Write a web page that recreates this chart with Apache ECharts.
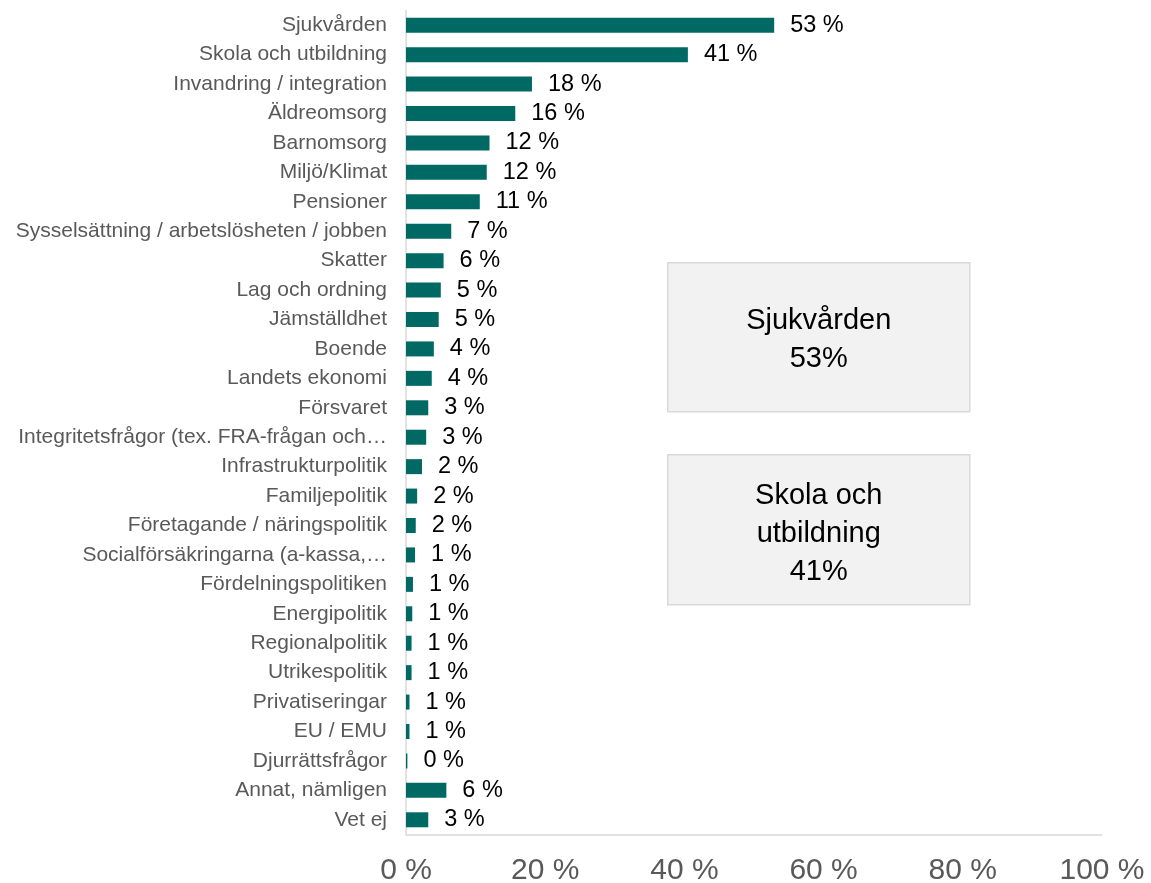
<!DOCTYPE html>
<html>
<head>
<meta charset="utf-8">
<script src="https://cdn.jsdelivr.net/npm/echarts@6/dist/echarts.min.js"></script>
<style>
  html, body { margin: 0; padding: 0; background: #fff; }
  #main { width: 1151px; height: 883px; }
</style>
</head>
<body>
<div id="main"></div>
<script>
var categories = [
    'Sjukvården', 'Skola och utbildning', 'Invandring / integration', 'Äldreomsorg',
    'Barnomsorg', 'Miljö/Klimat', 'Pensioner', 'Sysselsättning / arbetslösheten / jobben',
    'Skatter', 'Lag och ordning', 'Jämställdhet', 'Boende', 'Landets ekonomi', 'Försvaret',
    'Integritetsfrågor (tex. FRA-frågan och…', 'Infrastrukturpolitik', 'Familjepolitik',
    'Företagande / näringspolitik', 'Socialförsäkringarna (a-kassa,…', 'Fördelningspolitiken',
    'Energipolitik', 'Regionalpolitik', 'Utrikespolitik', 'Privatiseringar', 'EU / EMU',
    'Djurrättsfrågor', 'Annat, nämligen', 'Vet ej'
];
// bar lengths (percent)
var values = [
    52.9, 40.5, 18.1, 15.7, 12.0, 11.6, 10.6, 6.5, 5.4, 5.0, 4.7, 4.0, 3.7, 3.2,
    2.9, 2.3, 1.6, 1.4, 1.3, 1.0, 0.9, 0.8, 0.8, 0.5, 0.5, 0.2, 5.8, 3.2
];
// printed labels
var valueLabels = [
    '53 %', '41 %', '18 %', '16 %', '12 %', '12 %', '11 %', '7 %', '6 %', '5 %', '5 %',
    '4 %', '4 %', '3 %', '3 %', '2 %', '2 %', '2 %', '1 %', '1 %', '1 %', '1 %', '1 %',
    '1 %', '1 %', '0 %', '6 %', '3 %'
];
var xTicks = [0, 20, 40, 60, 80, 100];

var myChart = echarts.init(document.getElementById('main'));
var option = {
    animation: false,
    textStyle: { fontFamily: 'Liberation Sans, Arial, sans-serif' },
    grid: { left: 406, right: 49, top: 10.5, bottom: 48.5, outerBoundsMode: 'none' },
    xAxis: {
        type: 'value',
        min: xTicks[0],
        max: xTicks[xTicks.length - 1],
        interval: 20,
        axisLine: { show: true, lineStyle: { color: '#d9d9d9', width: 1.5 } },
        axisTick: { show: false },
        splitLine: { show: false },
        axisLabel: {
            margin: 21,
            color: '#595959',
            fontSize: 30,
            formatter: function (v) { return v + ' %'; }
        }
    },
    yAxis: {
        type: 'category',
        inverse: true,
        data: categories,
        axisLine: { show: true, lineStyle: { color: '#d9d9d9', width: 1.5 } },
        axisTick: { show: false },
        axisLabel: { color: '#595959', fontSize: 21, margin: 19 }
    },
    series: [
        {
            type: 'bar',
            data: values,
            barWidth: 15,
            itemStyle: { color: '#006963' },
            label: {
                show: true,
                position: 'right',
                distance: 16,
                color: '#000',
                fontSize: 23.5,
                formatter: function (p) { return valueLabels[p.dataIndex]; }
            }
        }
    ],
    graphic: [
        {
            type: 'group',
            left: 667,
            top: 262,
            children: [
                { type: 'rect', shape: { x: 0, y: 0, width: 302, height: 149 },
                  style: { fill: '#f2f2f2', stroke: '#d9d9d9', lineWidth: 1.5 } },
                { type: 'text', x: 151, y: 77,
                  style: { text: 'Sjukvården\n53%', fill: '#000', fontSize: 29, lineHeight: 38,
                           fontFamily: 'Liberation Sans, Arial, sans-serif',
                           align: 'center', verticalAlign: 'middle' } }
            ]
        },
        {
            type: 'group',
            left: 667,
            top: 454,
            children: [
                { type: 'rect', shape: { x: 0, y: 0, width: 302, height: 150 },
                  style: { fill: '#f2f2f2', stroke: '#d9d9d9', lineWidth: 1.5 } },
                { type: 'text', x: 151, y: 79,
                  style: { text: 'Skola och\nutbildning\n41%', fill: '#000', fontSize: 29, lineHeight: 38,
                           fontFamily: 'Liberation Sans, Arial, sans-serif',
                           align: 'center', verticalAlign: 'middle' } }
            ]
        }
    ]
};
myChart.setOption(option);
</script>
</body>
</html>
